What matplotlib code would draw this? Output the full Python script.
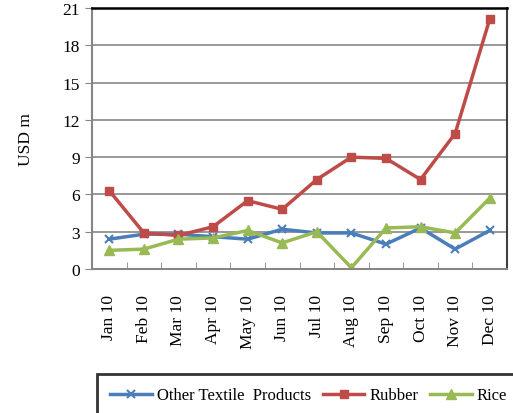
import matplotlib.pyplot as plt
import numpy as np

months = ['Jan 10', 'Feb 10', 'Mar 10', 'Apr 10', 'May 10', 'Jun 10',
          'Jul 10', 'Aug 10', 'Sep 10', 'Oct 10', 'Nov 10', 'Dec 10']
textile = [2.4, 2.8, 2.8, 2.6, 2.4, 3.2, 2.9, 2.9, 2.0, 3.3, 1.6, 3.1]
rubber = [6.3, 2.9, 2.7, 3.4, 5.5, 4.8, 7.2, 9.0, 8.9, 7.2, 10.9, 20.1]
rice = [1.5, 1.6, 2.4, 2.5, 3.1, 2.1, 3.0, 0.1, 3.3, 3.4, 2.9, 5.7]

plt.rcParams['font.family'] = 'Liberation Serif'

fig = plt.figure(figsize=(5.13, 4.14), dpi=100)
ax = fig.add_axes([92/513, 1-270/414, (507-92)/513, (270-9)/414])

x = np.arange(len(months))
ax.plot(x, textile, color='#4A7EBB', lw=2.5, marker='x', ms=6, mew=1.5, label='Other Textile  Products')
ax.plot(x, rubber, color='#BE4B48', lw=2.5, marker='s', ms=6, label='Rubber')
ax.plot(x, rice, color='#98B954', lw=2.5, marker='^', ms=7, label='Rice')

ax.set_xlim(-0.5, 11.5)
ax.set_ylim(0, 21)
ax.set_yticks(range(0, 22, 3))
ax.set_xticks(x)
ax.set_xticklabels(months, rotation=90, fontsize=12.5)
ax.set_xticks(np.arange(-0.5, 12, 1), minor=True)
ax.tick_params(axis='x', which='major', length=0, pad=18)
ax.tick_params(axis='x', which='minor', length=5, color='#868686', direction='in')
ax.tick_params(axis='y', labelsize=12.5, length=5, color='#868686', direction='out')
ax.yaxis.grid(True, color='#868686', lw=1.2)
ax.set_axisbelow(True)
ax.set_ylabel('USD m', fontsize=12.5, labelpad=21)

ax.spines['top'].set_color('black')
ax.spines['top'].set_linewidth(1.8)
ax.spines['right'].set_color('#404040')
ax.spines['right'].set_linewidth(1.5)
ax.spines['left'].set_color('#868686')
ax.spines['left'].set_linewidth(1.5)
ax.spines['bottom'].set_color('#868686')
ax.spines['bottom'].set_linewidth(1.5)

leg = fig.legend(loc='upper left', bbox_to_anchor=(97/513, 1-375/414), ncol=3, fontsize=12,
                 frameon=True, fancybox=False, borderaxespad=0, handlelength=2.5,
                 columnspacing=0.7, handletextpad=0.3, borderpad=0.8)
leg.get_frame().set_edgecolor('black')
leg.get_frame().set_linewidth(2)

fig.savefig('out.png', dpi=100)
